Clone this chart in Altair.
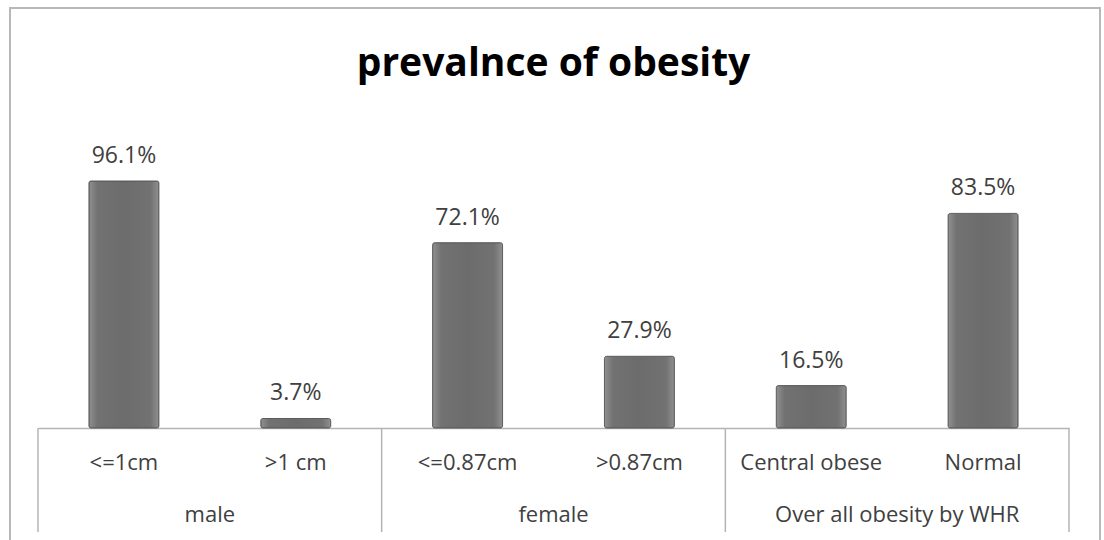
import altair as alt
import pandas as pd

# ---- data ----
categories = ["<=1cm", ">1 cm", "<=0.87cm", ">0.87cm", "Central obese", "Normal"]
groups_of_cat = ["male", "male", "female", "female",
                 "Over all  obesity by WHR", "Over all  obesity by WHR"]
values = [96.1, 3.7, 72.1, 27.9, 16.5, 83.5]
group_names = ["male", "female", "Over all  obesity by WHR"]
group_index = [0, 1, 2]
separator_index = [0, 1, 2, 3]

W, H = 1031, 257
FONT = "Open Sans"
TXT = "#404040"
LINE = "#b4b4b4"

df = pd.DataFrame({"cat": categories, "grp": groups_of_cat, "value": values})
gdf = pd.DataFrame({"grp": group_names, "gi": [g + 0.5 for g in group_index]})
sdf = pd.DataFrame({"s": separator_index})

xband = alt.X("cat:N", sort=categories,
              scale=alt.Scale(paddingInner=0.593, paddingOuter=0.2965),
              axis=alt.Axis(labels=False, ticks=False, tickSize=0, title=None,
                            domainColor=LINE, domainWidth=1.5, grid=False))
yscale = alt.Scale(domain=[0, 100])

bar_fill = alt.Gradient(
    gradient="linear", x1=0, x2=1, y1=0, y2=0,
    stops=[alt.GradientStop(color="#909090", offset=0),
           alt.GradientStop(color="#727272", offset=0.12),
           alt.GradientStop(color="#6c6c6c", offset=0.5),
           alt.GradientStop(color="#727272", offset=0.88),
           alt.GradientStop(color="#909090", offset=1)])

base = alt.Chart(df)

bars = base.mark_bar(fill=bar_fill, stroke="#5c5c5c", strokeWidth=1,
                     cornerRadius=2).encode(
    x=xband,
    y=alt.Y("value:Q", scale=yscale, axis=None),
)

labels = base.transform_calculate(
    lab="format(datum.value, '.1f') + '%'"
).mark_text(font=FONT, fontSize=23, color=TXT, baseline="alphabetic", dy=-18).encode(
    x=xband,
    y=alt.Y("value:Q", scale=yscale, axis=None),
    text="lab:N",
)

cat_labels = base.mark_text(font=FONT, fontSize=22, color=TXT, baseline="middle").encode(
    x=xband,
    y=alt.value(H + 35),
    text="cat:N",
)

band_layer = alt.layer(bars, labels, cat_labels)

xq = alt.X("s:Q", scale=alt.Scale(domain=[0, 3], nice=False, zero=False), axis=None)
seps = alt.Chart(sdf).mark_rule(color=LINE, strokeWidth=1.5).encode(
    x=xq, y=alt.value(H), y2=alt.value(H + 104))

grp_labels = alt.Chart(gdf).mark_text(font=FONT, fontSize=22, color=TXT,
                                      baseline="middle").encode(
    x=alt.X("gi:Q", scale=alt.Scale(domain=[0, 3], nice=False, zero=False), axis=None),
    y=alt.value(H + 87),
    text="grp:N",
)

frame = alt.Chart(alt.Data(values=[{"a": 1}])).mark_rect(
    fill=None, stroke="#b8b8b8", strokeWidth=2).encode(
    x=alt.value(-28), x2=alt.value(1062), y=alt.value(-163), y2=alt.value(400))

chart = alt.layer(frame, band_layer, seps, grp_labels).resolve_scale(
    x="independent"
).properties(
    width=W, height=H,
    title=alt.TitleParams("prevalnce of obesity", font=FONT, fontSize=39,
                          fontWeight="bold", color="black", anchor="middle",
                          baseline="alphabetic", offset=-108),
    autosize=alt.AutoSizeParams(type="none"),
    padding={"left": 38, "top": 171, "right": 35, "bottom": 112},
    background="white",
).configure_view(strokeWidth=0)

chart.save("out.html", embed_options={"renderer": "svg", "actions": False})
